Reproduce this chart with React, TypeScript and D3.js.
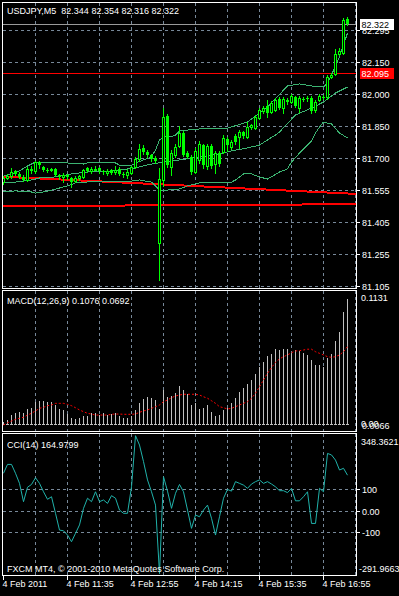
import * as d3 from "d3";

// USDJPY M5 candles, bar 0 = 4 Feb 10:15
const opens = [
  81.588, 81.607, 81.616, 81.64, 81.626, 81.612, 81.598, 81.649, 81.64, 81.681,
  81.658, 81.644, 81.644, 81.649, 81.621, 81.612, 81.621, 81.607, 81.593, 81.607,
  81.612, 81.654, 81.64, 81.649, 81.654, 81.64, 81.63, 81.644, 81.635, 81.649,
  81.626, 81.621, 81.63, 81.658, 81.695, 81.747, 81.728, 81.714, 81.7, 81.305,
  81.598, 81.895, 81.658, 81.714, 81.756, 81.816, 81.723, 81.705, 81.635, 81.691,
  81.76, 81.663, 81.756, 81.672, 81.723, 81.728, 81.788, 81.751, 81.802, 81.798,
  81.821, 81.798, 81.844, 81.839, 81.886, 81.919, 81.942, 81.914, 81.923, 81.974,
  81.932, 81.97, 81.96, 81.984, 81.932, 81.974, 81.979, 81.979, 81.923, 81.97,
  81.984, 81.984, 82.077, 82.091, 82.184, 82.188, 82.344,
];
const highs = [
  81.616, 81.626, 81.654, 81.644, 81.635, 81.621, 81.658, 81.663, 81.686, 81.686,
  81.663, 81.654, 81.654, 81.654, 81.626, 81.63, 81.626, 81.612, 81.616, 81.621,
  81.649, 81.658, 81.658, 81.663, 81.658, 81.644, 81.649, 81.649, 81.663, 81.658,
  81.635, 81.649, 81.663, 81.705, 81.765, 81.76, 81.737, 81.719, 81.709, 81.654,
  81.932, 81.905, 81.737, 81.765, 81.849, 81.826, 81.733, 81.714, 81.747, 81.779,
  81.765, 81.765, 81.765, 81.733, 81.733, 81.807, 81.798, 81.784, 81.812, 81.83,
  81.826, 81.867, 81.858, 81.9, 81.932, 81.942, 81.97, 81.965, 81.979, 81.984,
  81.984, 81.979, 81.998, 81.988, 81.988, 81.984, 81.988, 81.988, 81.97, 81.998,
  81.993, 82.086, 82.095, 82.207, 82.211, 82.351, 82.354,
];
const lows = [
  81.579, 81.602, 81.607, 81.621, 81.607, 81.593, 81.593, 81.63, 81.63, 81.654,
  81.64, 81.635, 81.64, 81.616, 81.602, 81.588, 81.602, 81.565, 81.588, 81.598,
  81.607, 81.635, 81.63, 81.644, 81.63, 81.626, 81.621, 81.626, 81.626, 81.621,
  81.612, 81.607, 81.626, 81.654, 81.686, 81.719, 81.705, 81.686, 81.677, 81.133,
  81.57, 81.658, 81.621, 81.705, 81.751, 81.709, 81.7, 81.626, 81.63, 81.677,
  81.654, 81.649, 81.654, 81.63, 81.663, 81.723, 81.733, 81.742, 81.765, 81.747,
  81.793, 81.793, 81.835, 81.835, 81.881, 81.909, 81.891, 81.909, 81.919, 81.928,
  81.909, 81.951, 81.956, 81.937, 81.914, 81.965, 81.965, 81.909, 81.914, 81.965,
  81.974, 81.974, 82.072, 82.086, 82.179, 82.184, 82.316,
];
const closes = [
  81.607, 81.616, 81.635, 81.626, 81.612, 81.598, 81.649, 81.64, 81.681, 81.667,
  81.644, 81.64, 81.649, 81.621, 81.612, 81.621, 81.612, 81.588, 81.607, 81.616,
  81.644, 81.64, 81.649, 81.651, 81.64, 81.635, 81.64, 81.63, 81.644, 81.626,
  81.621, 81.635, 81.658, 81.695, 81.742, 81.728, 81.714, 81.695, 81.686, 81.602,
  81.891, 81.667, 81.723, 81.751, 81.816, 81.714, 81.705, 81.635, 81.733, 81.765,
  81.667, 81.756, 81.663, 81.723, 81.672, 81.793, 81.76, 81.774, 81.774, 81.821,
  81.802, 81.844, 81.853, 81.891, 81.923, 81.932, 81.909, 81.956, 81.97, 81.932,
  81.974, 81.96, 81.988, 81.942, 81.979, 81.972, 81.974, 81.919, 81.96, 81.988,
  81.981, 82.077, 82.086, 82.184, 82.197, 82.342, 82.322,
];

// bollinger style envelope: [bar, price]
const bandUpper: [number, number][] = [
  [0, 81.616], [2, 81.626], [4, 81.64], [6, 81.663], [8, 81.681], [15, 81.681],
  [16, 81.677], [20, 81.672], [21, 81.677], [24, 81.681], [28, 81.677], [29, 81.667],
  [32, 81.665], [33, 81.677], [35, 81.691], [37, 81.705], [38, 81.737], [39, 81.784],
  [40, 81.798], [42, 81.798], [43, 81.807], [44, 81.826], [46, 81.83], [49, 81.835],
  [56, 81.839], [61, 81.867], [66, 81.937], [71, 82.035], [74, 82.044], [77, 82.035],
  [80, 82.03], [81, 82.049], [82, 82.086], [84, 82.17], [86, 82.281],
];
const bandMiddle: [number, number][] = [
  [0, 81.584], [3, 81.588], [7, 81.598], [9, 81.607], [13, 81.612], [17, 81.626],
  [21, 81.635], [25, 81.635], [29, 81.644], [33, 81.654], [37, 81.672], [40, 81.681],
  [44, 81.691], [49, 81.705], [54, 81.719], [57, 81.733], [61, 81.747], [64, 81.76],
  [66, 81.784], [68, 81.807], [69, 81.821], [73, 81.9], [77, 81.932], [80, 81.96],
  [83, 82.002], [86, 82.03],
];
const bandLower: [number, number][] = [
  [0, 81.542], [3, 81.547], [7, 81.542], [8, 81.537], [10, 81.542], [12, 81.551],
  [16, 81.57], [18, 81.584], [24, 81.593], [32, 81.593], [34, 81.598], [37, 81.588],
  [39, 81.551], [41, 81.551], [44, 81.556], [46, 81.57], [49, 81.584], [57, 81.588],
  [58, 81.598], [60, 81.626], [62, 81.626], [64, 81.612], [66, 81.602], [69, 81.635],
  [71, 81.649], [72, 81.681], [74, 81.723], [77, 81.779], [78, 81.816], [79, 81.844],
  [80, 81.867], [82, 81.858], [84, 81.816], [86, 81.793],
];

// red trend lines, [bar, price] anchors
const trendA: [number, number][] = [[0, 81.613], [86, 81.535]];
const trendB: [number, number][] = [[0, 81.476], [86, 81.485]];
const hLinePrice = 82.095;
const bidPrice = 82.322;

const macdHist = [
  0.0089, 0.0102, 0.0142, 0.0161, 0.0169, 0.0161, 0.0191, 0.0196, 0.0244, 0.0255,
  0.0255, 0.0244, 0.0249, 0.0223, 0.0191, 0.0183, 0.015, 0.0116, 0.011, 0.0116,
  0.0137, 0.0134, 0.0156, 0.0156, 0.0142, 0.0156, 0.0142, 0.015, 0.0156, 0.0137,
  0.0116, 0.0116, 0.0137, 0.0183, 0.0236, 0.0271, 0.0289, 0.0277, 0.0263, 0.0191,
  0.0343, 0.0289, 0.0295, 0.0322, 0.0375, 0.0343, 0.0311, 0.0223, 0.0236, 0.0188,
  0.0196, 0.0223, 0.0169, 0.0134, 0.0142, 0.0183, 0.0196, 0.0236, 0.0277, 0.0325,
  0.0357, 0.0392, 0.0424, 0.0472, 0.0531, 0.0571, 0.0619, 0.0633, 0.0673, 0.0665,
  0.0673, 0.0673, 0.0638, 0.0665, 0.0659, 0.0638, 0.0625, 0.0584, 0.0544, 0.0544,
  0.0531, 0.0598, 0.0633, 0.0737, 0.0807, 0.0968, 0.1076,
];
const macdSignal = [
  0.0062, 0.008, 0.0094, 0.0108, 0.0116, 0.0124, 0.0142, 0.0156, 0.0175, 0.0196,
  0.0204, 0.0217, 0.0223, 0.0236, 0.0236, 0.0236, 0.0228, 0.0217, 0.0201, 0.0183,
  0.0169, 0.0156, 0.015, 0.0142, 0.0142, 0.0142, 0.0142, 0.0148, 0.015, 0.015,
  0.0148, 0.0148, 0.0148, 0.015, 0.0164, 0.0175, 0.0183, 0.0196, 0.0209, 0.0223,
  0.0249, 0.0263, 0.0281, 0.0295, 0.0303, 0.0309, 0.0309, 0.0309, 0.0309, 0.0303,
  0.0289, 0.0277, 0.0257, 0.0236, 0.0209, 0.0201, 0.0191, 0.0196, 0.0209, 0.0223,
  0.0236, 0.0249, 0.0277, 0.0317, 0.037, 0.0424, 0.0478, 0.0523, 0.0566, 0.0593,
  0.0611, 0.0625, 0.0643, 0.0657, 0.0659, 0.0665, 0.0671, 0.0671, 0.0651, 0.0638,
  0.0625, 0.0611, 0.0606, 0.0611, 0.0625, 0.0651, 0.0692,
];
const cci = [
  174, 215, 215, 174, 127, 42, 109, 122, 153, 127,
  88, 53, 65, -12, -90, -93, -113, -144, -105, -66,
  11, 58, 42, 88, 42, 50, 34, 70, 58, 3,
  -12, -12, 111, 348.36, 305, 228, 143, 88, 26, -291.97,
  158, 91, 11, 81, 122, 88, 3, -82, -20, -28,
  3, 26, -35, -113, -28, 58, 99, 91, 135, 127,
  119, 104, 124, 135, 143, 127, 135, 124, 111, 93,
  93, 84, 104, 46, 46, 65, 88, -59, -59, 104,
  88, 266, 259, 235, 189, 197, 164.98,
];

const priceGrid = [82.295, 82.1463, 81.9975, 81.8488, 81.7, 81.5513, 81.4025, 81.2538, 81.105];
const priceTickLabels = ["82.295", "82.150", "82.000", "81.850", "81.700", "81.555", "81.405", "81.255", "81.105"];
const cciLevels = [100, 0, -100];
const cciLevelLabels = ["100", "0.00", "-100"];
const timeTickBars = [0, 16, 32, 48, 64, 80];
const timeTickLabels = ["4 Feb 2011", "4 Feb 11:35", "4 Feb 12:55", "4 Feb 14:15", "4 Feb 15:35", "4 Feb 16:55"];

const W = 399;
const H = 596;
const LEFT = 2;
const RIGHT = 356;
const MAIN = { top: 2, bottom: 288 };
const MACD = { top: 290, bottom: 431 };
const CCI = { top: 433, bottom: 575 };

const GRID = "#778899";
const LIME = "#00ff00";
const FONT = "'Liberation Sans', Arial, sans-serif";

const x = d3.scaleLinear().domain([0, 86]).range([3.5, 347.5]);
const yPrice = d3.scaleLinear().domain([81.105, 82.295]).range([286, 30]);
const yMacd = d3.scaleLinear().domain([0.0066, 0.1131]).range([424.5, 292]);
const yCci = d3.scaleLinear().domain([-291.9663, 348.3621]).range([573.6, 435.7]);

const px = (v: number) => Math.round(v) + 0.5;

function Frame({ top, bottom }: { top: number; bottom: number }) {
  return (
    <rect
      x={LEFT + 0.5}
      y={top + 0.5}
      width={RIGHT - LEFT}
      height={bottom - top}
      fill="none"
      stroke="#fff"
    />
  );
}

function VGrid({ top, bottom }: { top: number; bottom: number }) {
  return (
    <g>
      {d3.range(8, 89, 8).map((b) => (
        <line
          key={b}
          x1={x(b)}
          x2={x(b)}
          y1={top + 1}
          y2={bottom}
          stroke={GRID}
          strokeDasharray="3,3"
        />
      ))}
    </g>
  );
}

function Label({ x: lx, y, text, fill = "#fff" }: { x: number; y: number; text: string; fill?: string }) {
  return (
    <text x={lx} y={y} fill={fill} fontSize={9} fontFamily={FONT} style={{ whiteSpace: "pre" }}>
      {text}
    </text>
  );
}

export default function App() {
  const bandLine = d3
    .line<[number, number]>()
    .x((d) => x(d[0]))
    .y((d) => yPrice(d[1]))
    .curve(d3.curveLinear);

  const trendPath = (pts: [number, number][]) => {
    const t = d3.scaleLinear().domain([pts[0][0], pts[1][0]]).range([pts[0][1], pts[1][1]]);
    const b0 = x.invert(LEFT + 1);
    const b1 = x.invert(RIGHT);
    return `M${LEFT + 1},${yPrice(t(b0))}L${RIGHT},${yPrice(t(b1))}`;
  };

  const signalLine = d3
    .line<number>()
    .x((_d, i) => x(i))
    .y((d) => yMacd(d));

  const cciLine = d3
    .line<number>()
    .x((_d, i) => x(i))
    .y((d) => yCci(d));

  const macdBase = 424;

  return (
    <svg
      width={W}
      height={H}
      style={{ position: "absolute", left: 0, top: 0, display: "block" }}
      shapeRendering="crispEdges"
    >
      <rect width={W} height={H} fill="#000" />

      {/* ---------- price pane ---------- */}
      <VGrid top={MAIN.top} bottom={MAIN.bottom} />
      {priceGrid.map((v) => (
        <line
          key={v}
          x1={LEFT + 1}
          x2={RIGHT}
          y1={px(yPrice(v))}
          y2={px(yPrice(v))}
          stroke={GRID}
          strokeDasharray="3,3"
        />
      ))}

      <line x1={LEFT + 1} x2={RIGHT} y1={px(yPrice(bidPrice))} y2={px(yPrice(bidPrice))} stroke="#9a9a9a" />
      <line x1={LEFT + 1} x2={RIGHT} y1={px(yPrice(hLinePrice))} y2={px(yPrice(hLinePrice))} stroke="#ff0000" />
      <path d={trendPath(trendA)} stroke="#ff0000" strokeWidth={2} fill="none" />
      <path d={trendPath(trendB)} stroke="#ff0000" strokeWidth={2} fill="none" />

      {[bandUpper, bandMiddle, bandLower].map((band, i) => (
        <path key={i} d={bandLine(band) ?? ""} fill="none" stroke="#3cb371" strokeWidth={1} />
      ))}

      {opens.map((o, i) => {
        const c = closes[i];
        const cx = x(i);
        const yo = Math.round(yPrice(o));
        const yc = Math.round(yPrice(c));
        const top = Math.min(yo, yc);
        const bot = Math.max(yo, yc);
        const bull = c > o;
        return (
          <g key={i}>
            <line
              x1={cx}
              x2={cx}
              y1={Math.round(yPrice(highs[i]))}
              y2={Math.round(yPrice(lows[i])) + 1}
              stroke={LIME}
            />
            {bull ? (
              <rect x={cx - 1} y={top + 0.5} width={2} height={Math.max(bot - top, 1)} fill="#000" stroke={LIME} />
            ) : (
              <rect x={cx - 1.5} y={top} width={3} height={Math.max(bot - top, 1)} fill={LIME} />
            )}
          </g>
        );
      })}

      <Frame top={MAIN.top} bottom={MAIN.bottom} />
      <Label x={7} y={14} text={"USDJPY,M5  82.344 82.354 82.316 82.322"} />

      {priceGrid.map((v, i) => (
        <g key={v}>
          <line x1={RIGHT + 1} x2={RIGHT + 4} y1={px(yPrice(v))} y2={px(yPrice(v))} stroke="#fff" />
          <Label x={362} y={Math.round(yPrice(v)) + 3.5} text={priceTickLabels[i]} />
        </g>
      ))}
      <rect x={360} y={Math.round(yPrice(bidPrice)) - 5} width={34} height={11} fill="#fff" />
      <Label x={361.5} y={Math.round(yPrice(bidPrice)) + 3.5} text={bidPrice.toFixed(3)} fill="#000" />
      <rect x={360} y={Math.round(yPrice(hLinePrice)) - 5} width={34} height={11} fill="#ff0000" />
      <Label x={361.5} y={Math.round(yPrice(hLinePrice)) + 3.5} text={hLinePrice.toFixed(3)} />

      {/* ---------- MACD pane ---------- */}
      <VGrid top={MACD.top} bottom={MACD.bottom} />
      {macdHist.map((v, i) => (
        <g key={i}>
          <line x1={x(i)} x2={x(i)} y1={Math.round(yMacd(v))} y2={macdBase + 1} stroke="#c0c0c0" />
          <line x1={x(i) - 1.5} x2={x(i) + 1.5} y1={macdBase + 0.5} y2={macdBase + 0.5} stroke="#c0c0c0" />
        </g>
      ))}
      <path
        d={signalLine(macdSignal) ?? ""}
        fill="none"
        stroke="#ff0000"
        strokeDasharray="2,2"
        shapeRendering="auto"
      />
      <Frame top={MACD.top} bottom={MACD.bottom} />
      <Label x={7} y={304} text="MACD(12,26,9) 0.1076 0.0692" />
      <Label x={361} y={301} text="0.1131" />
      <Label x={361} y={426.5} text="0.00" />
      <Label x={362} y={428.5} text="0.0066" />

      {/* ---------- CCI pane ---------- */}
      <VGrid top={CCI.top} bottom={CCI.bottom} />
      {cciLevels.map((v, i) => (
        <g key={v}>
          <line
            x1={LEFT + 1}
            x2={RIGHT}
            y1={px(yCci(v))}
            y2={px(yCci(v))}
            stroke={GRID}
            strokeDasharray="3,3"
          />
          <line x1={RIGHT + 1} x2={RIGHT + 4} y1={px(yCci(v))} y2={px(yCci(v))} stroke="#fff" />
          <Label x={362} y={Math.round(yCci(v)) + 3.5} text={cciLevelLabels[i]} />
        </g>
      ))}
      <path d={cciLine(cci) ?? ""} fill="none" stroke="#20b2aa" shapeRendering="auto" />
      <Frame top={CCI.top} bottom={CCI.bottom} />
      <Label x={7} y={448} text="CCI(14) 164.9799" />
      <Label x={361} y={445} text="348.3621" />
      <Label x={359} y={571.5} text="-291.9663" />
      <Label x={7} y={572} text="FXCM MT4, © 2001-2010 MetaQuotes Software Corp." />

      {/* ---------- time axis ---------- */}
      {timeTickBars.map((b, i) => (
        <g key={b}>
          <line x1={x(b)} x2={x(b)} y1={CCI.bottom + 1} y2={CCI.bottom + 5} stroke="#fff" />
          <Label x={x(b) - 1} y={587} text={timeTickLabels[i]} />
        </g>
      ))}
    </svg>
  );
}
